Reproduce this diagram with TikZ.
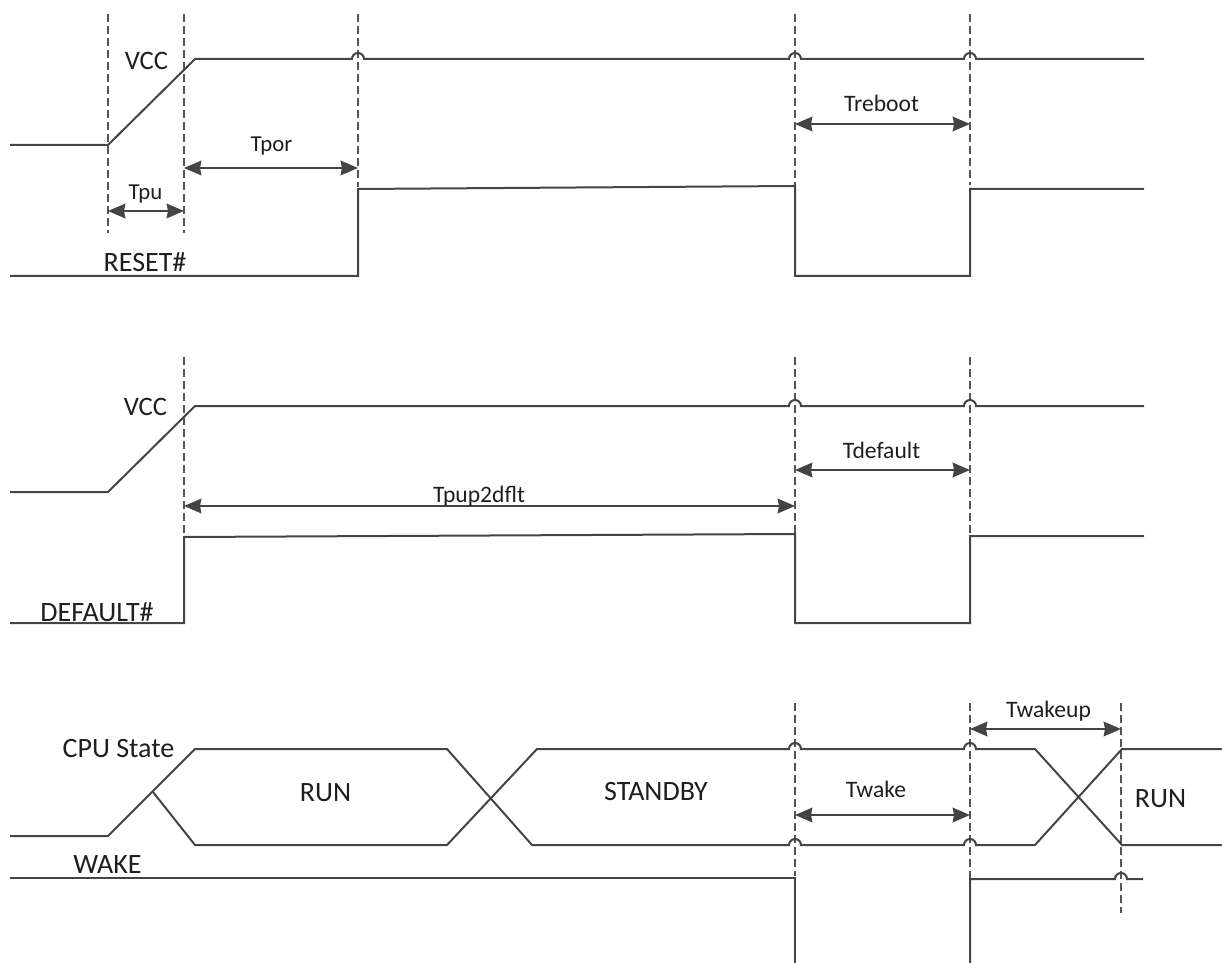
\documentclass[tikz,border=0pt]{standalone}
\usepackage{fontspec}
\setmainfont{Carlito}
\usetikzlibrary{arrows.meta}

\definecolor{sigline}{RGB}{68,68,68}
\definecolor{guide}{RGB}{85,85,85}
\definecolor{labeltext}{RGB}{30,30,30}

\tikzset{every picture/.style={line width=0.75pt}}
\tikzset{
  signal/.style={draw=sigline, line width=1.5pt, line join=miter},
  guideline/.style={draw=guide, line width=1.1pt, dash pattern=on 6pt off 3pt},
  dimarrow/.style={draw=sigline, line width=1.4pt, {Stealth[length=13pt,width=11pt,inset=1pt]}-{Stealth[length=13pt,width=11pt,inset=1pt]}},
  timelbl/.style={text=labeltext, font=\fontsize{17.7}{21}\selectfont, inner sep=0pt, anchor=base},
  siglbl/.style={text=labeltext, font=\fontsize{21}{25}\selectfont, inner sep=0pt, anchor=base}
}

\begin{document}
\begin{tikzpicture}[x=0.75pt,y=0.75pt,yscale=-1,xscale=1]
\path[use as bounding box] (0,0) rectangle (1222,963);

%Dashed guides [top]
\draw [guideline] (108,14) -- (108,233) ;
\draw [guideline] (184,14) -- (184,233) ;
\draw [guideline] (358,14) -- (358,187) ;
\draw [guideline] (795,14) -- (795,185) ;
\draw [guideline] (970,14) -- (970,185) ;
%Dashed guides [middle]
\draw [guideline] (184,357) -- (184,534) ;
\draw [guideline] (795,357) -- (795,533) ;
\draw [guideline] (970,357) -- (970,535) ;
%Dashed guides [bottom]
\draw [guideline] (795,703) -- (795,876) ;
\draw [guideline] (970,703) -- (970,878) ;
\draw [guideline] (1121,703) -- (1121,913) ;

%VCC [top]
\draw [signal] (10,145) -- (108,145) -- (195,59) -- (352,59) arc (180:360:6) -- (789,59) arc (180:360:6) -- (964,59) arc (180:360:6) -- (1144,59) ;
%RESET#
\draw [signal] (10,276) -- (358,276) -- (358,189) -- (795,186) -- (795,276) -- (970,276) -- (970,189) -- (1144,189) ;

%VCC [middle]
\draw [signal] (10,492) -- (108,492) -- (195,406) -- (789,406) arc (180:360:6) -- (964,406) arc (180:360:6) -- (1144,406) ;
%DEFAULT#
\draw [signal] (10,623) -- (184,623) -- (184,537) -- (795,534) -- (795,623) -- (970,623) -- (970,536) -- (1144,536) ;

%CPU State
\draw [signal] (10,836) -- (108,836) -- (195,749) -- (447,749) -- (532,845) -- (789,845) arc (180:360:6) -- (964,845) arc (180:360:6) -- (1035,845) -- (1122,749) -- (1222,749) ;
\draw [signal] (153,792) -- (195,845) -- (447,845) -- (537,749) -- (789,749) arc (180:360:6) -- (964,749) arc (180:360:6) -- (1035,749) -- (1122,845) -- (1222,845) ;
%WAKE
\draw [signal] (10,878) -- (795,878) -- (795,963) ;
\draw [signal] (970,963) -- (970,879) -- (1115,879) arc (180:360:6) -- (1143,879) ;

%Timing arrows
\coordinate (tpuA) at (108,211) ;
\coordinate (tpuB) at (184,211) ;
\coordinate (tporA) at (184,168) ;
\coordinate (tporB) at (358,168) ;
\coordinate (trebootA) at (795,124) ;
\coordinate (trebootB) at (970,124) ;
\coordinate (tpupA) at (184,506) ;
\coordinate (tpupB) at (795,506) ;
\coordinate (tdefaultA) at (795,470) ;
\coordinate (tdefaultB) at (970,470) ;
\coordinate (twakeA) at (795,815) ;
\coordinate (twakeB) at (970,815) ;
\coordinate (twakeupA) at (970,729) ;
\coordinate (twakeupB) at (1121,729) ;
\draw [dimarrow] (tpuA) -- (tpuB) ;
\draw [dimarrow] (tporA) -- (tporB) ;
\draw [dimarrow] (trebootA) -- (trebootB) ;
\draw [dimarrow] (tpupA) -- (tpupB) ;
\draw [dimarrow] (tdefaultA) -- (tdefaultB) ;
\draw [dimarrow] (twakeA) -- (twakeB) ;
\draw [dimarrow] (twakeupA) -- (twakeupB) ;

% Text Node
\node [siglbl, font=\fontsize{20}{24}\selectfont] (vccTop) at (146.5,70) {VCC};
\node [timelbl, font=\fontsize{17.1}{21}\selectfont] (tpu) at (145.5,200) {Tpu};
\node [timelbl, font=\fontsize{17.1}{21}\selectfont] (tpor) at (271.5,152) {Tpor};
\node [siglbl] (reset) at (145,272) {RESET\#};
\node [timelbl] (treboot) at (881.5,112) {Treboot};
\node [siglbl, font=\fontsize{20}{24}\selectfont] (vccMid) at (145.5,415) {VCC};
\node [timelbl] (tpup) at (479,502) {Tpup2dflt};
\node [timelbl] (tdefault) at (881.5,458) {Tdefault};
\node [siglbl] (default) at (97,621) {DEFAULT\#};
\node [siglbl] (cpustate) at (118.5,757) {CPU State};
\node [siglbl] (runA) at (325.5,801) {RUN};
\node [siglbl] (standby) at (656,800) {STANDBY};
\node [timelbl] (twake) at (876,797) {Twake};
\node [timelbl] (twakeup) at (1048.5,717) {Twakeup};
\node [siglbl] (runB) at (1160.5,807) {RUN};
\node [siglbl] (wake) at (107.5,873) {WAKE};

\end{tikzpicture}
\end{document}
